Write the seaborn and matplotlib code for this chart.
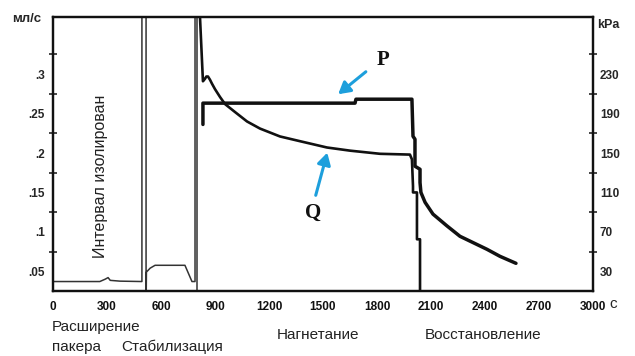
import matplotlib
matplotlib.use("Agg")
import matplotlib.pyplot as plt
import seaborn as sns
import pandas as pd
import numpy as np

# ---- data ----
# pre-injection flow trace (ml/s), thin line
t_pre = [0, 260, 290, 306, 318, 372, 494, 494, 517, 517, 519, 540, 567, 733, 772, 789, 789, 800, 800]
q_pre = [0.037, 0.037, 0.040, 0.042, 0.0385, 0.0375, 0.037, 0.40, 0.40, 0.0, 0.049, 0.054, 0.0576, 0.0576, 0.037, 0.037, 0.40, 0.40, 0.0]

# injection flow Q (ml/s)
t_q = [811, 833, 844, 852, 861, 872, 883, 900, 928, 956, 1011, 1078, 1150, 1261, 1372, 1522,
       1650, 1817, 1983, 1994, 2000, 2000, 2022, 2022, 2039, 2039]
q_inj = [0.40, 0.291, 0.294, 0.297, 0.297, 0.293, 0.288, 0.281, 0.271, 0.262, 0.252, 0.240,
         0.231, 0.221, 0.215, 0.207, 0.203, 0.199, 0.198, 0.192, 0.158, 0.150, 0.150,
         0.0906, 0.0906, 0.0]

# pressure P (kPa)
t_p = [833, 833, 1678, 1683, 1994, 2000, 2011, 2011, 2039, 2039, 2044, 2067, 2111, 2189,
       2261, 2411, 2483, 2572]
p_kpa = [179, 200.6, 200.6, 204.6, 204.6, 167.0, 164.0, 136.6, 133.5, 120, 110, 100, 88,
         76, 65.5, 52.3, 45.2, 38.1]

x_ticks = [0, 300, 600, 900, 1200, 1500, 1800, 2100, 2400, 2700, 3000]
q_labels = [0.05, 0.1, 0.15, 0.2, 0.25, 0.3]
q_label_text = [".05", ".1", ".15", ".2", ".25", ".3"]
q_marks = [0.075, 0.125, 0.175, 0.225, 0.275, 0.325]
p_labels = [30, 70, 110, 150, 190, 230]
p_marks = [50, 90, 130, 170, 210, 250]

phase_labels = ["Расширение", "пакера", "Стабилизация", "Нагнетание", "Восстановление"]

# ---- plot ----
sns.set_style("white")
plt.rcParams["font.family"] = ["Liberation Sans", "DejaVu Sans"]

fig = plt.figure(figsize=(6.35, 3.56), dpi=100)
ax = fig.add_axes([53/635, 1-291/356, 540/635, 274/356])

df_pre = pd.DataFrame({"t": t_pre, "q": q_pre})
df_q = pd.DataFrame({"t": t_q, "q": q_inj})
df_p = pd.DataFrame({"t": t_p, "p": p_kpa})

sns.lineplot(data=df_pre, x="t", y="q", ax=ax, sort=False, estimator=None,
             color="#333333", lw=1.1)
sns.lineplot(data=df_q, x="t", y="q", ax=ax, sort=False, estimator=None,
             color="#111111", lw=1.9)

ax.set_xlim(0, 3000)
ax.set_ylim(0.025, 0.3725)

ax2 = ax.twinx()
sns.lineplot(data=df_p, x="t", y="p", ax=ax2, sort=False, estimator=None,
             color="#111111", lw=2.5)
ax2.set_ylim(10, 288)

for a in (ax, ax2):
    a.set_xlabel("")
    a.set_ylabel("")
    for s in a.spines.values():
        s.set_color("#111111")
        s.set_linewidth(1.6)

ax.set_xticks(x_ticks)
ax.set_xticklabels([str(v) for v in x_ticks], fontsize=8.5, fontweight="bold")
ax.tick_params(axis="x", direction="inout", length=6, width=1.2, pad=4, colors="#111111")

ax.set_yticks(q_labels)
ax.set_yticklabels(q_label_text, fontsize=8.5, fontweight="bold")
ax.set_yticks(q_marks, minor=True)
ax.tick_params(axis="y", which="major", length=0, pad=6)
ax.tick_params(axis="y", which="minor", direction="inout", length=6, width=1.2)

ax2.set_yticks(p_labels)
ax2.set_yticklabels([str(v) for v in p_labels], fontsize=8.5, fontweight="bold")
ax2.set_yticks(p_marks, minor=True)
ax2.tick_params(axis="y", which="major", length=0, pad=5)
ax2.tick_params(axis="y", which="minor", direction="inout", length=6, width=1.2)

# axis unit labels
fig.text(12/635, 1-19/356, "мл/с", fontsize=9.5, fontweight="bold", va="center", ha="left")
fig.text(597/635, 1-25/356, "kPa", fontsize=9, fontweight="bold", va="center", ha="left")
fig.text(609/635, 1-304/356, "c", fontsize=11, va="center", ha="left")

# rotated interval label
ax.text(100/635, 1-176/356, "Интервал изолирован", transform=fig.transFigure,
        rotation=90, fontsize=11.5, ha="center", va="center", color="#222222")

# phase labels under the axis
fig.text(52/635, 1-327/356, phase_labels[0], fontsize=11, ha="left", va="center", color="#222222")
fig.text(52/635, 1-347/356, phase_labels[1], fontsize=11, ha="left", va="center", color="#222222")
fig.text(172/635, 1-347/356, phase_labels[2], fontsize=11, ha="center", va="center", color="#222222")
fig.text(318/635, 1-335/356, phase_labels[3], fontsize=11, ha="center", va="center", color="#222222")
fig.text(483/635, 1-335/356, phase_labels[4], fontsize=11, ha="center", va="center", color="#222222")

# P and Q annotations with blue arrows
blue = "#1d9fdc"
fig.text(383/635, 1-60/356, "P", fontsize=15, fontweight="bold", family="Liberation Serif",
         ha="center", va="center", color="#111111")
fig.text(313/635, 1-213/356, "Q", fontsize=15, fontweight="bold", family="Liberation Serif",
         ha="center", va="center", color="#111111")
fig.patches.append(matplotlib.patches.FancyArrowPatch(
    (368/635, 1-70/356), (336/635, 1-96/356), transform=fig.transFigure,
    arrowstyle="-|>,head_length=7,head_width=4", color=blue, lw=2.2))
fig.patches.append(matplotlib.patches.FancyArrowPatch(
    (315/635, 1-198/356), (328/635, 1-150/356), transform=fig.transFigure,
    arrowstyle="-|>,head_length=7,head_width=4", color=blue, lw=2.2))

fig.savefig("out.png", dpi=100)
